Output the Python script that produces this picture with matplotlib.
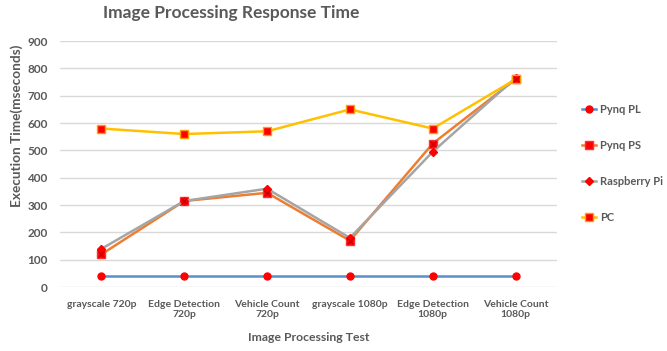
import numpy as np
import matplotlib.pyplot as plt

categories = ["grayscale 720p", "Edge Detection\n720p", "Vehicle Count\n720p",
              "grayscale 1080p", "Edge Detection\n1080p", "Vehicle Count\n1080p"]
pynq_pl = [40, 40, 40, 40, 40, 40]
pynq_ps = [120, 315, 345, 170, 525, 760]
raspberry_pi = [140, 315, 360, 180, 495, 765]
pc = [580, 560, 570, 650, 580, 760]

plt.rcParams['font.family'] = ['Lato', 'DejaVu Sans']
text_col = '#595959'

fig = plt.figure(figsize=(6.67, 3.51), dpi=100)
ax = fig.add_axes([0.090, 0.182, 0.745, 0.701])

x = np.arange(len(categories))

ax.plot(x, pynq_pl, color='#5B8FC9', lw=1.8, marker='o', ms=5,
        mfc='#FF0000', mec='#FF0000', label='Pynq PL', zorder=3)
ax.plot(x, pynq_ps, color='#ED7D31', lw=1.8, marker='s', ms=6,
        mfc='#FF0000', mec='#FF3030', label='Pynq PS', zorder=3)
ax.plot(x, pynq_ps, ls='none', marker='x', ms=4, mew=0.8, color='#C00000', zorder=4)
ax.plot(x, raspberry_pi, color='#A5A5A5', lw=1.8, marker='D', ms=4,
        mfc='#FF0000', mec='#FF0000', label='Raspberry Pi', zorder=3)
ax.plot(x, pc, color='#FFC000', lw=1.8, marker='s', ms=6,
        mfc='#FF0000', mec='#FFA000', label='PC', zorder=3)

ax.set_xlim(-0.5, len(categories) - 0.5)
ax.set_ylim(0, 900)
ax.set_yticks(np.arange(0, 901, 100))
ax.grid(axis='y', color='#D9D9D9', lw=1)
ax.set_axisbelow(True)
for s in ax.spines.values():
    s.set_visible(False)
ax.tick_params(length=0, colors=text_col, labelsize=8.5)
ax.tick_params(axis='y', pad=9)
ax.tick_params(axis='x', pad=9)
ax.set_xticks(x)
ax.set_xticklabels(categories, fontweight='bold', fontsize=7.5, color=text_col)
for lab in ax.get_yticklabels():
    lab.set_fontweight('bold')

ax.set_xlabel("Image Processing Test", fontsize=8.8, fontweight='bold',
              color=text_col, labelpad=9)
ax.set_ylabel("Execution Time(mseconds)", fontsize=9.8, fontweight='bold',
              color=text_col)
ax.yaxis.set_label_coords(-0.074, 0.655)
fig.suptitle("Image Processing Response Time", fontsize=12.5, fontweight='bold',
             color=text_col, x=0.347, y=0.985)

leg = ax.legend(loc='upper left', bbox_to_anchor=(1.03, 0.785), frameon=False,
                handlelength=1.3, handletextpad=0.3, labelspacing=2.25,
                prop={'size': 8, 'weight': 'bold'})
for t in leg.get_texts():
    t.set_color(text_col)

fig.savefig("out.png", dpi=100)
